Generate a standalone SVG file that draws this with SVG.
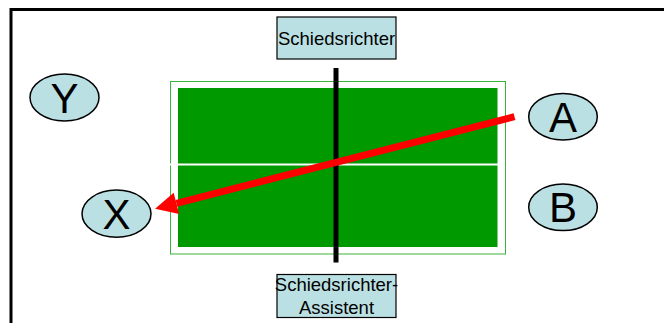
<svg xmlns="http://www.w3.org/2000/svg" width="664" height="323" viewBox="0 0 664 323">
  <style>
    .player ellipse { fill: #bbe0e3; stroke: #000; stroke-width: 1.5; }
    .player text { font-family: "Liberation Sans", Arial, sans-serif; font-size: 42px; text-anchor: middle; fill: #000; }
    .official rect { fill: #bbe0e3; stroke: #000; stroke-width: 1.2; }
    .official text { font-family: "Liberation Sans", Arial, sans-serif; font-size: 18.5px; text-anchor: middle; fill: #000; }
  </style>
  <defs>
    <!-- arrowhead base sits on the line end, tip extends forward -->
    <marker id="arrowhead" markerUnits="userSpaceOnUse" markerWidth="22" markerHeight="22" viewBox="0 0 20 20" refX="0" refY="10" orient="auto" overflow="visible">
      <path d="M0,0 L20,10 L0,20 Z" fill="#ff0000"/>
    </marker>
  </defs>
  <rect width="664" height="323" fill="#fff"/>
  <!-- outer frame (open to the right and bottom) -->
  <path d="M11,323 V9.5 H664" fill="none" stroke="#000" stroke-width="3"/>

  <!-- table -->
  <g id="table">
    <rect x="170.5" y="81.5" width="335" height="172.5" fill="#fff" stroke="#3cb33c" stroke-width="1"/>
    <rect x="178" y="88" width="319.5" height="159" fill="#009900"/>
    <rect x="168" y="163.5" width="330" height="2" fill="#fff"/>
    <rect x="333.5" y="68" width="5" height="194.5" fill="#000"/>
  </g>

  <g id="official-top" class="official">
    <rect x="277" y="17" width="119" height="42"/>
    <text x="336.5" y="45">Schiedsrichter</text>
  </g>
  <g id="official-bottom" class="official">
    <rect x="277" y="274.5" width="119" height="43"/>
    <text x="336.5" y="291">Schiedsrichter-</text>
    <text x="336.5" y="313.5">Assistent</text>
  </g>

  <g id="player-Y" class="player">
    <ellipse cx="64.5" cy="97.5" rx="34.5" ry="23.5"/>
    <text x="64.5" y="112.5">Y</text>
  </g>
  <g id="player-A" class="player">
    <ellipse cx="563" cy="116.7" rx="34.3" ry="23.3"/>
    <text x="563" y="131.7">A</text>
  </g>
  <g id="player-B" class="player">
    <ellipse cx="563" cy="207.3" rx="34.3" ry="23.3"/>
    <text x="563" y="222.3">B</text>
  </g>
  <g id="player-X" class="player">
    <ellipse cx="116.5" cy="213.7" rx="34.5" ry="23.6"/>
    <text x="116.5" y="228.7">X</text>
  </g>

  <g id="connectors">
    <line x1="514.5" y1="116.7" x2="176.4" y2="203.3" stroke="#ff0000" stroke-width="7" marker-end="url(#arrowhead)"/>
  </g>
</svg>
